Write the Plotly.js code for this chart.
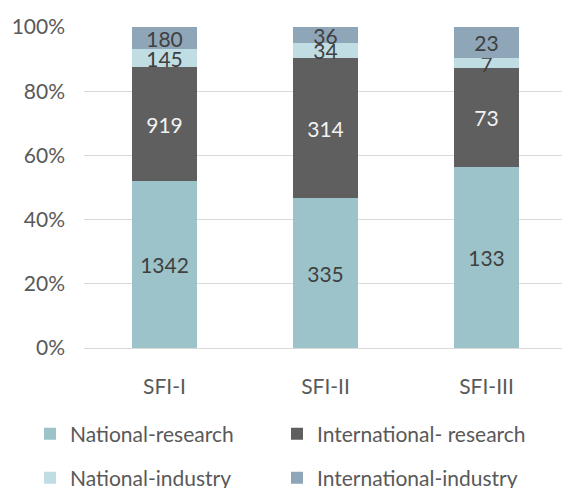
<!DOCTYPE html>
<html>
<head>
<meta charset="utf-8">
<script src="https://cdn.plot.ly/plotly-3.0.1.min.js"></script>
<style>html,body{margin:0;padding:0;background:#fff;}#chart{width:562px;height:488px;}</style>
</head>
<body>
<div id="chart"></div>
<script>
var categories = ["SFI-I", "SFI-II", "SFI-III"];
var seriesNames = ["National-research", "International- research", "National-industry", "International-industry"];
var nationalResearch = [1342, 335, 133];
var internationalResearch = [919, 314, 73];
var nationalIndustry = [145, 34, 7];
var internationalIndustry = [180, 36, 23];
var yTickVals = [0, 20, 40, 60, 80, 100];
var yTickText = ["0%", "20%", "40%", "60%", "80%", "100%"];

var seriesValues = [nationalResearch, internationalResearch, nationalIndustry, internationalIndustry];
var colors = ["#9CC3C9", "#5F5F5F", "#BFDDE3", "#8EA6B8"];
var textColors = ["#404040", "#F2F2F2", "#404040", "#404040"];
var legendIds = ["legend", "legend2", "legend3", "legend4"];
var FONT = "Lato, 'Open Sans', sans-serif";

var traces = seriesValues.map(function (vals, i) {
  return {
    type: "bar",
    name: seriesNames[i],
    x: categories,
    y: vals,
    text: vals.map(String),
    textposition: "inside",
    insidetextanchor: "middle",
    constraintext: "none",
    textangle: 0,
    textfont: {family: FONT, size: 21, color: textColors[i]},
    marker: {color: colors[i], line: {width: 0}},
    width: 0.4,
    legend: legendIds[i],
    hoverinfo: "none"
  };
});

function legendAt(xPx, yPx) {
  return {
    orientation: "h",
    xref: "container",
    yref: "container",
    xanchor: "left",
    yanchor: "middle",
    x: xPx / 562,
    y: 1 - yPx / 488,
    font: {family: FONT, size: 21, color: "#595959"},
    bgcolor: "rgba(0,0,0,0)"
  };
}

var layout = {
  width: 562,
  height: 488,
  margin: {l: 84, r: 0, t: 27, b: 140},
  paper_bgcolor: "#ffffff",
  plot_bgcolor: "#ffffff",
  barmode: "stack",
  barnorm: "percent",
  font: {family: FONT, size: 21, color: "#595959"},
  xaxis: {
    type: "category",
    range: [-0.5, 2.469],
    showgrid: false,
    showline: true,
    linecolor: "#D9D9D9",
    linewidth: 1,
    ticks: "",
    ticklabelstandoff: 20,
    tickfont: {family: FONT, size: 21, color: "#595959"},
    fixedrange: true
  },
  yaxis: {
    range: [0, 100],
    tickvals: yTickVals,
    ticktext: yTickText,
    showgrid: true,
    gridcolor: "#D9D9D9",
    gridwidth: 1,
    zeroline: false,
    showline: false,
    ticks: "",
    ticklabelstandoff: 18,
    tickfont: {family: FONT, size: 21, color: "#595959"},
    fixedrange: true
  },
  showlegend: true,
  legend: legendAt(30, 434),
  legend2: legendAt(277, 434),
  legend3: legendAt(30, 478),
  legend4: legendAt(277, 478)
};

Plotly.newPlot("chart", traces, layout, {displayModeBar: false, staticPlot: true});
</script>
</body>
</html>
